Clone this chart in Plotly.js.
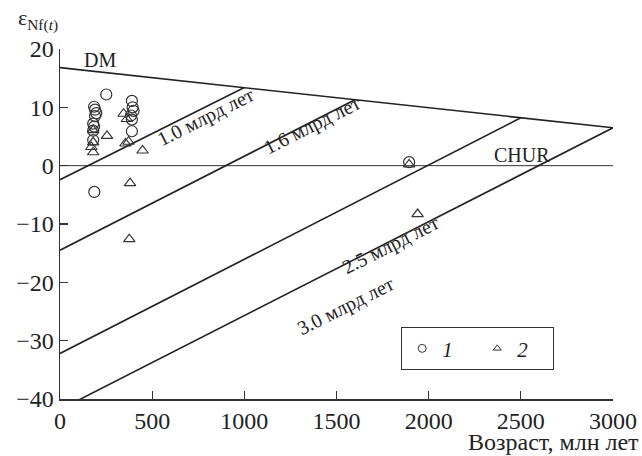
<!DOCTYPE html>
<html>
<head>
<meta charset="utf-8">
<script src="https://cdn.plot.ly/plotly-3.0.1.min.js"></script>
<style>html,body{margin:0;padding:0;background:#fff;}#chart{width:642px;height:456px;}</style>
</head>
<body>
<div id="chart"></div>
<script>
// DM and CHUR reference lines
const dmAges = [0, 3000];
const dmVals = [16.8, 6.5];
const churAges = [0, 3000];
const churVals = [0, 0];

// Crustal evolution lines (model ages, Myr)
const modelAges = [1000, 1600, 2500, 3000];
const modelLabels = ["1.0 млрд лет", "1.6 млрд лет", "2.5 млрд лет", "3.0 млрд лет"];
const lineStartVals = [-2.4, -14.5, -32.2, -41.8];   // value at age 0
const lineEndVals = [13.4, 11.3, 8.2, 6.5];          // value on DM at model age

// Series 1 (circles)
const ages1 = [251, 185, 190, 197, 190, 180, 185, 180, 180, 186, 390, 394, 399, 385, 390, 390, 1894];
const eps1  = [12.2, 10.1, 9.6, 9.0, 8.5, 7.2, 6.7, 6.0, 4.4, -4.5, 11.1, 10.0, 9.4, 8.6, 7.9, 5.9, 0.6];

// Series 2 (triangles)
const ages2 = [255, 180, 180, 170, 180, 345, 363, 355, 372, 448, 380, 376, 1894, 1940];
const eps2  = [5.1, 6.1, 4.0, 3.2, 2.3, 8.9, 8.0, 3.8, 4.1, 2.6, -3.0, -12.6, 0.2, -8.3];

const legendNames = ["<i>1</i>", "<i>2</i>"];
const xTicks = [0, 500, 1000, 1500, 2000, 2500, 3000];
const yTicks = [-40, -30, -20, -10, 0, 10, 20];
const yTickText = ["\u221240", "\u221230", "\u221220", "\u221210", "0", "10", "20"];

const FONT = "Liberation Serif, Times New Roman, serif";
const traces = [];

traces.push({x: dmAges, y: dmVals, mode: "lines", line: {color: "#222", width: 1.6}, showlegend: false, hoverinfo: "skip"});
traces.push({x: churAges, y: churVals, mode: "lines", line: {color: "#333", width: 1}, showlegend: false, hoverinfo: "skip"});
modelAges.forEach((t, i) => {
  traces.push({x: [0, t], y: [lineStartVals[i], lineEndVals[i]], mode: "lines",
    line: {color: "#222", width: 1.6}, showlegend: false, hoverinfo: "skip"});
});
traces.push({x: ages1, y: eps1, mode: "markers", showlegend: false,
  marker: {symbol: "circle-open", size: 11, color: "#333", line: {width: 1.2, color: "#333"}}});
traces.push({x: ages2, y: eps2, mode: "markers", showlegend: false,
  marker: {symbol: "triangle-up-open", size: 10, color: "#333", line: {width: 1.2, color: "#333"}}});
// legend entries
traces.push({x: [null], y: [null], mode: "markers", name: legendNames[0],
  marker: {symbol: "circle-open", size: 8, color: "#333", line: {width: 1, color: "#333"}}});
traces.push({x: [null], y: [null], mode: "markers", name: legendNames[1],
  marker: {symbol: "triangle-up-open", size: 7, color: "#333", line: {width: 1, color: "#333"}}});

const labelPos = [[205, 117], [312, 126], [390, 245], [345, 306]];
const annotations = [];
const px = (u) => (u - 60) / 553;
const py = (v) => (399 - v) / 350;
modelLabels.forEach((txt, i) => {
  annotations.push({xref: "paper", yref: "paper",
    x: px(labelPos[i][0]), y: py(labelPos[i][1]), xanchor: "center", yanchor: "middle",
    text: txt, showarrow: false, textangle: -26.7,
    font: {family: FONT, size: 20, color: "#222"}});
});
annotations.push({xref: "paper", yref: "paper", x: px(100), y: py(60), xanchor: "center", yanchor: "middle",
  text: "DM", showarrow: false, font: {family: FONT, size: 20, color: "#222"}});
annotations.push({xref: "paper", yref: "paper", x: px(522), y: py(155), xanchor: "center", yanchor: "middle",
  text: "CHUR", showarrow: false, font: {family: FONT, size: 20, color: "#222"}});
annotations.push({xref: "paper", yref: "paper", x: px(16), y: py(19),
  xanchor: "left", yanchor: "middle", text: "\u03b5<sub>Nf(<i>t</i>)</sub>", showarrow: false,
  font: {family: FONT, size: 22, color: "#222"}});
annotations.push({xref: "paper", yref: "paper", x: px(641), y: py(442),
  xanchor: "right", yanchor: "middle", text: "Возраст, млн лет", showarrow: false,
  font: {family: FONT, size: 24, color: "#222"}});

const layout = {
  width: 642, height: 456,
  margin: {l: 60, r: 29, t: 49, b: 57},
  paper_bgcolor: "#fff", plot_bgcolor: "#fff",
  font: {family: FONT, color: "#222"},
  xaxis: {range: [0, 3000], tickvals: xTicks, ticks: "inside", ticklen: 8, tickwidth: 1.2,
    tickcolor: "#333", showline: true, linecolor: "#333", linewidth: 1.5, showgrid: false,
    zeroline: false, tickfont: {family: FONT, size: 24, color: "#222"}, mirror: false},
  yaxis: {range: [-40, 20], tickvals: yTicks, ticktext: yTickText, ticks: "inside", ticklen: 8,
    tickwidth: 1.2, tickcolor: "#333", showline: true, linecolor: "#333", linewidth: 1.5,
    showgrid: false, zeroline: false, tickfont: {family: FONT, size: 24, color: "#222"}},
  showlegend: true,
  legend: {x: px(401), y: py(327), xanchor: "left", yanchor: "top",
    orientation: "h", bordercolor: "#333", borderwidth: 1.2, bgcolor: "#fff",
    font: {family: FONT, size: 21, color: "#222"}, entrywidth: 30, itemwidth: 30},
  annotations: annotations
};

Plotly.newPlot("chart", traces, layout, {staticPlot: true, displayModeBar: false});
</script>
</body>
</html>
